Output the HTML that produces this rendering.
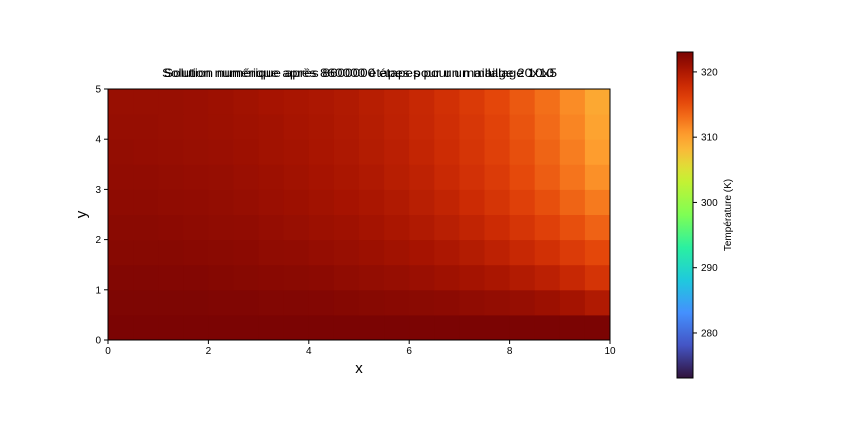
<!DOCTYPE html>
<html><head><meta charset="utf-8"><style>
body{margin:0;background:#fff}
svg text{font-family:"Liberation Sans",sans-serif;fill:#000}
</style></head><body>
<svg id="c" width="864" height="432" xmlns="http://www.w3.org/2000/svg"></svg>
<script>
const xTicks=[0,2,4,6,8,10];
const yTicks=[0,1,2,3,4,5];
const cbTicks=[280,290,300,310,320];
const nx=20, ny=10;
// rows from y=0 (bottom) to top
const row0=[323,323,323,323,323,323,323,323,323,323,323,323,323,323,323,323,323,323,323,323];
const row1=[322.8,322.8,322.8,322.8,322.7,322.7,322.6,322.6,322.5,322.4,322.3,322.2,322.1,322,321.8,321.6,321.4,321.1,320.6,319.8];
const row2=[322.6,322.6,322.5,322.5,322.4,322.3,322.2,322.1,322,321.8,321.6,321.4,321.2,320.9,320.6,320.2,319.7,319.1,318.3,317.2];
const row3=[322.3,322.3,322.3,322.2,322.1,322,321.8,321.7,321.5,321.3,321.1,320.8,320.5,320.1,319.6,319,318.3,317.5,316.5,315.5];
const row4=[322.1,322.1,322,321.9,321.8,321.7,321.5,321.3,321.1,320.9,320.6,320.2,319.8,319.3,318.7,318,317.1,316.1,315,313.8];
const row5=[321.9,321.9,321.8,321.7,321.6,321.4,321.2,321,320.8,320.5,320.2,319.8,319.3,318.7,318,317.1,316.1,315,313.7,312.4];
const row6=[321.7,321.7,321.6,321.5,321.4,321.2,321,320.8,320.5,320.2,319.9,319.4,318.9,318.2,317.4,316.5,315.4,314.1,312.7,311.2];
const row7=[321.6,321.5,321.4,321.3,321.2,321,320.8,320.6,320.3,320,319.6,319.2,318.6,317.9,317.1,316.1,315,313.7,312.2,310.4];
const row8=[321.4,321.4,321.3,321.2,321.1,320.9,320.7,320.4,320.2,319.9,319.5,319,318.4,317.7,316.9,315.9,314.7,313.3,311.8,309.9];
const row9=[321.3,321.3,321.3,321.2,321,320.8,320.5,320.3,320.1,319.8,319.4,318.9,318.3,317.5,316.6,315.6,314.4,313,311.4,309.5];
const rows=[row0,row1,row2,row3,row4,row5,row6,row7,row8,row9];
const vmin=273.1, vmax=323.05;

const NS="http://www.w3.org/2000/svg";
const svg=document.getElementById('c');
const L=108,R=610,T=89,B=340;
const xs=v=>L+(v/10)*(R-L);
const ys=v=>B-(v/5)*(B-T);
const CBT=52,CBB=378,CBL=677,CBR=693;
const cs=v=>CBB-(v-vmin)/(vmax-vmin)*(CBB-CBT);
const TP=[0,.1,.2,.3,.4,.5,.6,.65,.7,.75,.8,.85,.9,.95,1];
const TC=['30123b','4454c4','4490fe','1fc9dd','2af0a1','7efe55','c2f234','e1dd37','f9ba38','fe9b2d','f36e19','e4460a','cb2a04','a51301','7a0403'];
function hx(h){return [parseInt(h.slice(0,2),16),parseInt(h.slice(2,4),16),parseInt(h.slice(4,6),16)];}
function turbo(t){
  t=Math.max(0,Math.min(1,t));
  let k=0;while(k<TP.length-2&&t>TP[k+1])k++;
  const f=(t-TP[k])/(TP[k+1]-TP[k]);const a=hx(TC[k]),b=hx(TC[k+1]);
  const c=a.map((v,i)=>Math.round(v+(b[i]-v)*f));
  return `rgb(${c[0]},${c[1]},${c[2]})`;
}
function el(tag,attrs,parent){const e=document.createElementNS(NS,tag);for(const k in attrs)e.setAttribute(k,attrs[k]);(parent||svg).appendChild(e);return e;}
function txt(s,attrs){const e=el('text',attrs);e.textContent=s;return e;}

const g=el('g',{});


for(let j=0;j<ny;j++)for(let i=0;i<nx;i++){
  const x0=xs(i*10/nx),x1=xs((i+1)*10/nx),y1=ys(j*5/ny),y0=ys((j+1)*5/ny);
  const r=el('rect',{x:x0,y:y0,width:x1-x0+0.5,height:y1-y0+0.5,fill:turbo((rows[j][i]-vmin)/(vmax-vmin))},g);
  
  
}
const fr=el('rect',{x:L,y:T,width:R-L,height:B-T,fill:'none',stroke:'#000','stroke-width':1});


xTicks.forEach(v=>{
  el('line',{x1:xs(v),x2:xs(v),y1:B,y2:B+4,stroke:'#000'});
  const t=txt(v,{x:xs(v),y:B+14,'font-size':10,'text-anchor':'middle'});
  
  
});
yTicks.forEach(v=>{
  el('line',{x1:L-4,x2:L,y1:ys(v),y2:ys(v),stroke:'#000'});
  const t=txt(v,{x:L-7,y:ys(v)+3.5,'font-size':10,'text-anchor':'end'});
  
  
});
const xt=txt('x',{x:(L+R)/2,y:373,'font-size':15,'text-anchor':'middle'});


const yt=txt('y',{x:86,y:(T+B)/2,'font-size':15,'text-anchor':'middle',transform:`rotate(-90 86 ${(T+B)/2})`});


const t1=txt('Solution numérique après 860000 étapes pour un maillage 20x10',{x:162,y:77,'font-size':12,textLength:392,lengthAdjust:'spacingAndGlyphs'});


const t2=txt('Solution numérique après 8600000 étapes pour un maillage 10x5',{x:164,y:77,'font-size':12,textLength:393,lengthAdjust:'spacingAndGlyphs'});



// colorbar
const defs=el('defs',{});
const lg=el('linearGradient',{id:'cb',x1:0,y1:1,x2:0,y2:0},defs);
for(let k=0;k<=50;k++)el('stop',{offset:k/50,'stop-color':turbo(k/50)},lg);
const cb=el('rect',{x:CBL,y:CBT,width:CBR-CBL,height:CBB-CBT,fill:'url(#cb)',stroke:'#000','stroke-width':1});


cbTicks.forEach(v=>{
  el('line',{x1:CBR,x2:CBR+4,y1:cs(v),y2:cs(v),stroke:'#000'});
  const t=txt(v,{x:CBR+8,y:cs(v)+3.5,'font-size':10});
  
  
});
const ct=txt('Température (K)',{x:731,y:215,'font-size':10,'text-anchor':'middle',transform:'rotate(-90 731 215)'});


</script>
</body></html>
